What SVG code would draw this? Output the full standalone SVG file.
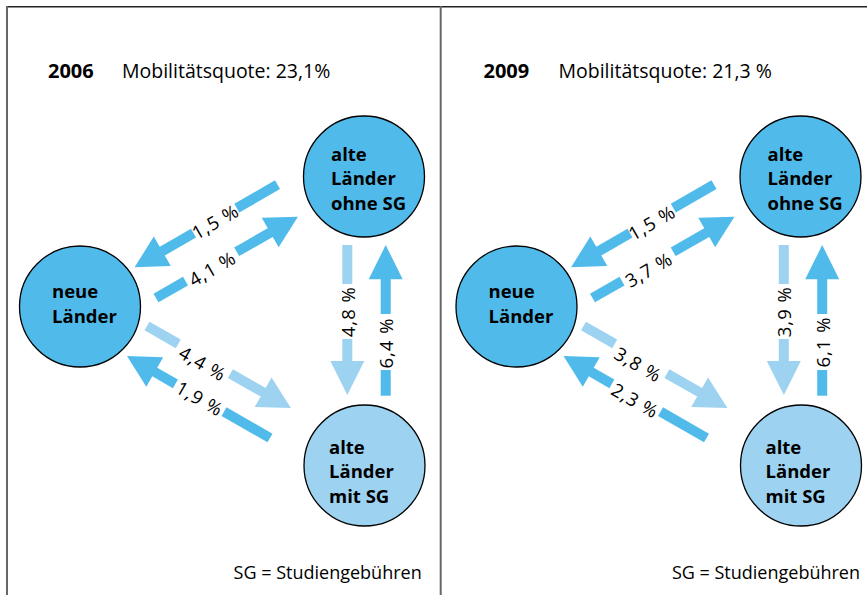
<svg xmlns="http://www.w3.org/2000/svg" width="867" height="595" viewBox="0 0 867 595">
<defs>
<style>
.bg{fill:#ffffff}
.frame{stroke:#666;stroke-width:2;fill:none}
.top{stroke:#222;stroke-width:1.4;fill:none}
.c1{fill:#50bbeb;stroke:#000;stroke-width:1.3}
.c2{fill:#9dd3f1;stroke:#000;stroke-width:1.3}
.blue{fill:#50bbeb}
.light{fill:#9dd3f1}
.node{font-family:"Open Sans","Liberation Sans",sans-serif;font-weight:bold;font-size:18.5px;fill:#000}
.yr{font-family:"Open Sans","Liberation Sans",sans-serif;font-weight:bold;font-size:20px;fill:#000}
.ttl{font-family:"Open Sans","Liberation Sans",sans-serif;font-size:19.5px;fill:#000}
.pct{font-family:"Open Sans","Liberation Sans",sans-serif;font-size:18.5px;letter-spacing:1px;fill:#000;text-anchor:middle;dominant-baseline:central}
.note{font-family:"Open Sans","Liberation Sans",sans-serif;font-size:18px;fill:#000;text-anchor:end}
</style>
</defs>
<rect class="bg" x="0" y="0" width="867" height="595"/>
<g id="frame">
<line class="top" x1="6" y1="6.7" x2="867" y2="6.7"/>
<line class="frame" x1="7" y1="6" x2="7" y2="595"/>
<line class="frame" x1="440.7" y1="6" x2="440.7" y2="595"/>
</g>

<!-- Panel 2006 -->
<g id="panel-2006">
<g id="title-2006">
<text class="yr" x="48" y="78">2006</text>
<text class="ttl" x="122" y="78">Mobilitätsquote: 23,1%</text>
</g>
<g id="connectors-2006">
<g class="blue" transform="translate(277.5,184.7) rotate(150)"><rect x="0" y="-5" width="47" height="10"/><rect x="97" y="-5" width="37" height="10"/><polygon points="133,-17 165,0 133,17"/></g>
<g class="blue" transform="translate(156,298) rotate(-29.8)"><rect x="0" y="-5" width="34" height="10"/><rect x="93" y="-5" width="39.6" height="10"/><polygon points="131.6,-17 163.6,0 131.6,17"/></g>
<g class="light" transform="translate(147,326) rotate(29.7)"><rect x="0" y="-5" width="36" height="10"/><rect x="96" y="-5" width="38.7" height="10"/><polygon points="133.7,-17 165.7,0 133.7,17"/></g>
<g class="blue" transform="translate(270,438) rotate(209.8)"><rect x="0" y="-5" width="53" height="10"/><rect x="109" y="-5" width="24.8" height="10"/><polygon points="132.8,-17 164.8,0 132.8,17"/></g>
<g class="light" transform="translate(347.3,245) rotate(90)"><rect x="0" y="-5" width="39" height="10"/><rect x="94" y="-5" width="23" height="10"/><polygon points="116,-17 150,0 116,17"/></g>
<g class="blue" transform="translate(385.7,395.7) rotate(-90)"><rect x="0" y="-5" width="25.7" height="10"/><rect x="81.7" y="-5" width="35.7" height="10"/><polygon points="116.4,-17 150.7,0 116.4,17"/></g>
<text class="pct" transform="translate(215,221) rotate(-30)">1,5 %</text>
<text class="pct" transform="translate(212,268) rotate(-30)">4,1 %</text>
<text class="pct" transform="translate(203,363) rotate(30)">4,4 %</text>
<text class="pct" transform="translate(200,398) rotate(30)">1,9 %</text>
<text class="pct" transform="translate(347.3,311.7) rotate(-90)">4,8 %</text>
<text class="pct" transform="translate(385.7,343) rotate(-90)">6,4 %</text>
</g>
<g id="node-ohne-2006">
<circle class="c1" cx="364" cy="176.5" r="60.5"/>
<text class="node" x="331" y="160.5">alte</text>
<text class="node" x="331" y="185">Länder</text>
<text class="node" x="331" y="209.5">ohne SG</text>
</g>
<g id="node-neue-2006">
<circle class="c1" cx="80" cy="306.5" r="60.5"/>
<text class="node" x="52" y="298">neue</text>
<text class="node" x="52" y="322.5">Länder</text>
</g>
<g id="node-mit-2006">
<circle class="c2" cx="364.5" cy="465.5" r="60.5"/>
<text class="node" x="329" y="453.5">alte</text>
<text class="node" x="329" y="478">Länder</text>
<text class="node" x="329" y="502.5">mit SG</text>
</g>
<text class="note" x="421.7" y="579">SG = Studiengebühren</text>
</g>

<!-- Panel 2009 -->
<g id="panel-2009" transform="translate(436.5,0)">
<g id="title-2009">
<text class="yr" x="47" y="78">2009</text>
<text class="ttl" x="122" y="78">Mobilitätsquote: 21,3 %</text>
</g>
<g id="connectors-2009">
<g class="blue" transform="translate(277.5,184.7) rotate(150)"><rect x="0" y="-5" width="47" height="10"/><rect x="97" y="-5" width="37" height="10"/><polygon points="133,-17 165,0 133,17"/></g>
<g class="blue" transform="translate(156,298) rotate(-29.8)"><rect x="0" y="-5" width="34" height="10"/><rect x="93" y="-5" width="39.6" height="10"/><polygon points="131.6,-17 163.6,0 131.6,17"/></g>
<g class="light" transform="translate(147,326) rotate(29.7)"><rect x="0" y="-5" width="36" height="10"/><rect x="96" y="-5" width="38.7" height="10"/><polygon points="133.7,-17 165.7,0 133.7,17"/></g>
<g class="blue" transform="translate(270,438) rotate(209.8)"><rect x="0" y="-5" width="53" height="10"/><rect x="109" y="-5" width="24.8" height="10"/><polygon points="132.8,-17 164.8,0 132.8,17"/></g>
<g class="light" transform="translate(347.3,245) rotate(90)"><rect x="0" y="-5" width="39" height="10"/><rect x="94" y="-5" width="23" height="10"/><polygon points="116,-17 150,0 116,17"/></g>
<g class="blue" transform="translate(385.7,395.7) rotate(-90)"><rect x="0" y="-5" width="25.7" height="10"/><rect x="81.7" y="-5" width="35.7" height="10"/><polygon points="116.4,-17 150.7,0 116.4,17"/></g>
<text class="pct" transform="translate(215,222) rotate(-30)">1,5 %</text>
<text class="pct" transform="translate(212,269) rotate(-30)">3,7 %</text>
<text class="pct" transform="translate(202,364) rotate(30)">3,8 %</text>
<text class="pct" transform="translate(199,400) rotate(30)">2,3 %</text>
<text class="pct" transform="translate(347.3,311.7) rotate(-90)">3,9 %</text>
<text class="pct" transform="translate(385.7,342) rotate(-90)">6,1 %</text>
</g>
<g id="node-ohne-2009">
<circle class="c1" cx="364" cy="176.5" r="60.5"/>
<text class="node" x="331" y="160.5">alte</text>
<text class="node" x="331" y="185">Länder</text>
<text class="node" x="331" y="209.5">ohne SG</text>
</g>
<g id="node-neue-2009">
<circle class="c1" cx="80" cy="306.5" r="60.5"/>
<text class="node" x="52" y="298">neue</text>
<text class="node" x="52" y="322.5">Länder</text>
</g>
<g id="node-mit-2009">
<circle class="c2" cx="364.5" cy="465.5" r="60.5"/>
<text class="node" x="329" y="453.5">alte</text>
<text class="node" x="329" y="478">Länder</text>
<text class="node" x="329" y="502.5">mit SG</text>
</g>
<text class="note" x="423.5" y="579">SG = Studiengebühren</text>
</g>
</svg>
